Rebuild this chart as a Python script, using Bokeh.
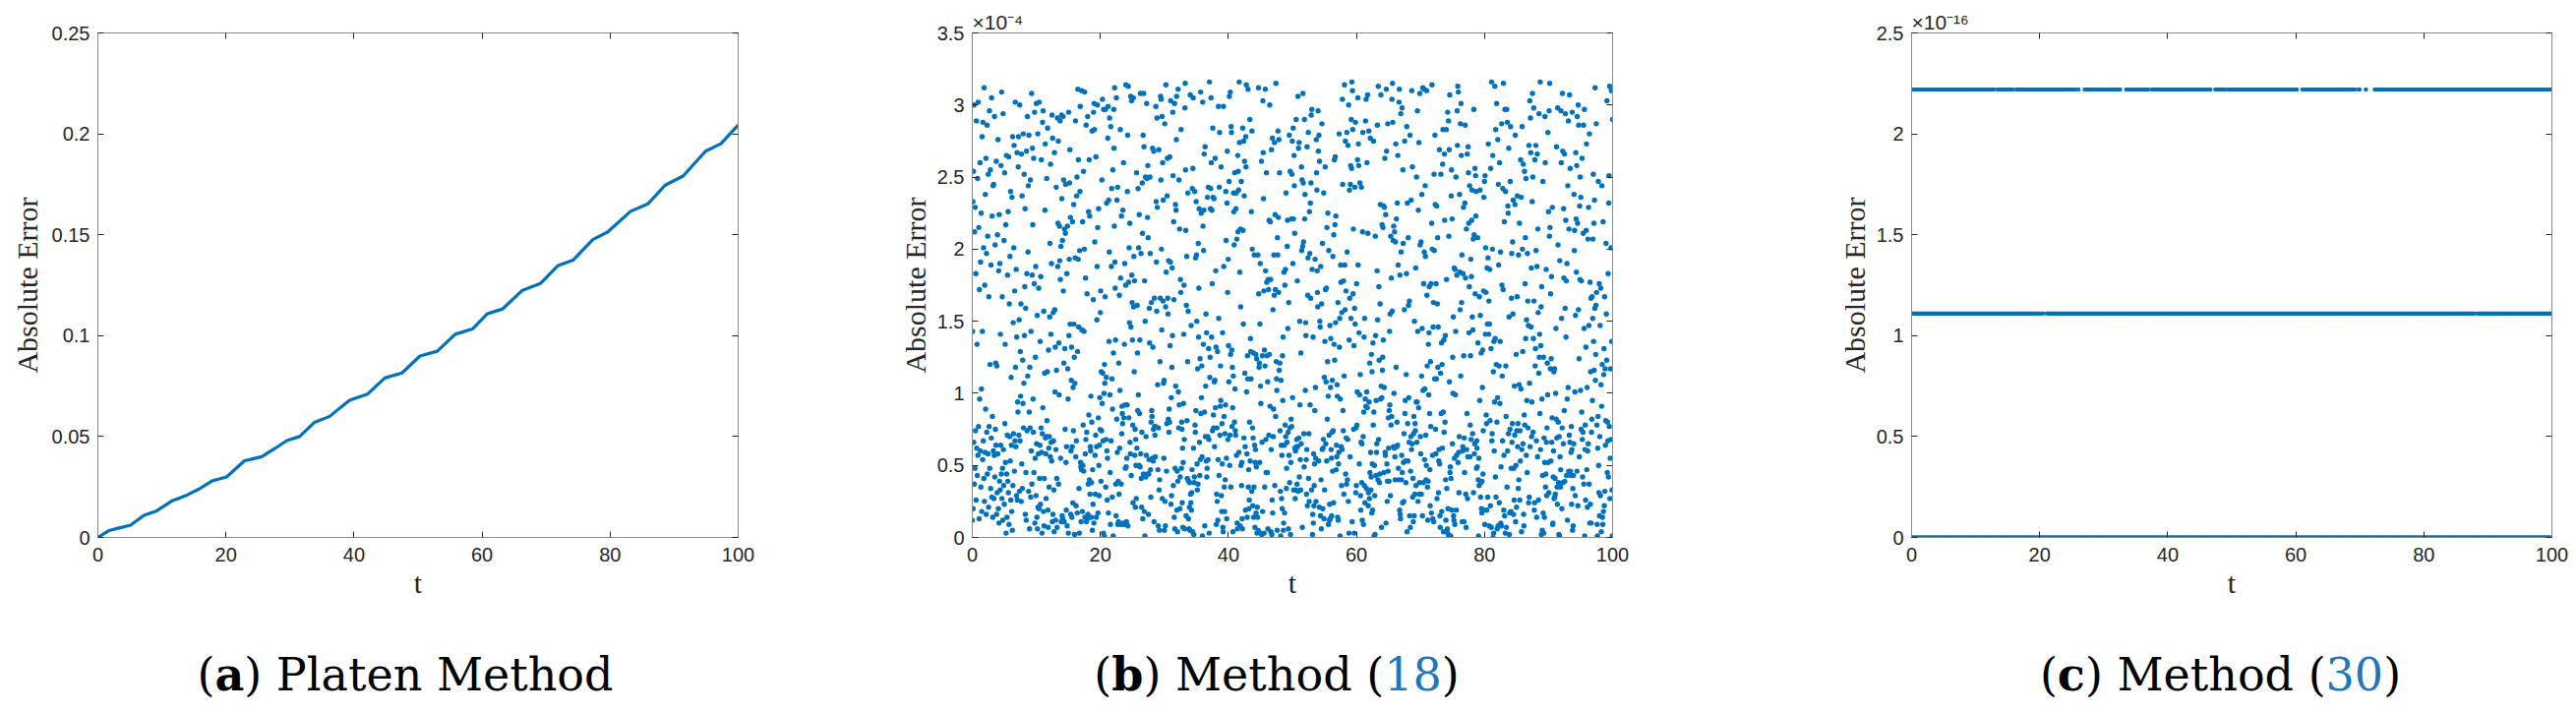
import numpy as np
from bokeh.plotting import figure
from bokeh.models import (LinearAxis, FixedTicker, Div, Range1d,
                          CustomJSTickFormatter)
from bokeh.layouts import row, column
from bokeh.embed import file_html
from bokeh.resources import INLINE

BLUE = "#0072BD"
TICK = "#262626"
FRAME = "#8c8c8c"
SANS = "Liberation Sans"
SERIF = "Liberation Serif"
CAP_FONT = "DejaVu Serif"

# ---------------- data ----------------
x_ticks = [0, 20, 40, 60, 80, 100]

a_yticks = [0, 0.05, 0.1, 0.15, 0.2, 0.25]
a_ylabels = ["0", "0.05", "0.1", "0.15", "0.2", "0.25"]
b_yticks = [0, 0.5, 1, 1.5, 2, 2.5, 3, 3.5]
b_ylabels = ["0", "0.5", "1", "1.5", "2", "2.5", "3", "3.5"]
c_yticks = [0, 0.5, 1, 1.5, 2, 2.5]
c_ylabels = ["0", "0.5", "1", "1.5", "2", "2.5"]
b_exponent = "×10⁻⁴"
c_exponent = "×10⁻¹⁶"

# (a) Platen method: absolute error along t
t_a = [0, 1.7, 3.3, 5.1, 7.2, 9.2, 11.5, 13.9, 15.8, 17.8, 20.1, 22.9, 25.6, 27.6,
       29.5, 31.5, 33.8, 36.2, 39.3, 42.1, 44.8, 47.5, 50.3, 53.0, 55.8, 58.5, 60.8,
       63.2, 66.3, 69.1, 71.8, 74.2, 77.3, 79.6, 83.2, 85.9, 88.6, 91.4, 94.9, 97.3, 100]
err_a = [0, 0.0034, 0.0047, 0.0061, 0.011, 0.0132, 0.018, 0.021, 0.024, 0.028, 0.030,
         0.038, 0.040, 0.044, 0.048, 0.050, 0.057, 0.060, 0.068, 0.071, 0.079, 0.0815,
         0.0899, 0.0923, 0.1007, 0.1033, 0.1108, 0.1132, 0.1225, 0.1258, 0.1346, 0.1374,
         0.1476, 0.1513, 0.1616, 0.1653, 0.1746, 0.1791, 0.1914, 0.1951, 0.2044]

# (b) Method (18): absolute error samples, in units of 1e-6 (estimated from the cloud);
# listed as a table, samples run down the columns
b_err_1e6 = [
12, 245, 67, 301, 188, 34, 156, 72, 279, 5, 213, 48, 133, 290, 61, 97, 22, 264, 176, 40, 311, 58, 120, 229, 9, 84, 197, 31, 256, 73,
143, 27, 302, 65, 218, 3, 171, 91, 44, 287, 15, 236, 108, 53, 269, 190, 36, 149, 78, 313, 19, 205, 62, 126, 251, 7, 164, 296, 46, 82,
233, 57, 118, 14, 275, 199, 39, 86, 308, 25, 161, 70, 247, 138, 2, 284, 51, 223, 101, 68, 182, 30, 259, 11, 141, 297, 76, 209, 43, 167,
20, 292, 63, 154, 37, 240, 115, 79, 271, 8, 195, 54, 306, 129, 26, 221, 88, 47, 262, 174, 16, 112, 283, 69, 201, 35, 147, 315, 59, 95,
254, 42, 186, 6, 135, 299, 74, 227, 18, 160, 81, 243, 50, 110, 277, 33, 193, 64, 305, 123, 13, 238, 87, 45, 170, 288, 24, 215, 77, 152,
66, 203, 29, 280, 99, 52, 248, 10, 178, 314, 41, 131, 71, 226, 17, 265, 104, 56, 189, 38, 294, 145, 4, 232, 85, 60, 272, 117, 23, 207,
300, 75, 139, 21, 216, 49, 93, 260, 1, 184, 122, 68, 309, 32, 158, 244, 55, 106, 273, 44, 198, 15, 137, 286, 79, 230, 28, 169, 61, 252,
37, 121, 267, 58, 192, 11, 304, 83, 150, 46, 239, 3, 127, 282, 70, 211, 25, 98, 258, 162, 40, 312, 73, 180, 19, 225, 107, 53, 295, 136,
212, 64, 26, 173, 289, 47, 114, 9, 250, 79, 157, 316, 35, 200, 89, 62, 276, 14, 142, 231, 57, 102, 266, 30, 187, 72, 303, 124, 5, 218,
48, 261, 94, 20, 179, 310, 67, 134, 42, 237, 13, 111, 285, 76, 196, 27, 253, 163, 51, 96, 298, 38, 220, 7, 148, 270, 63, 181, 34, 116,
229, 16, 87, 302, 55, 144, 3, 190, 70, 263, 39, 125, 281, 22, 168, 60, 241, 12, 99, 307, 45, 176, 80, 214, 28, 153, 291, 66, 8, 234,
74, 119, 257, 41, 202, 18, 297, 92, 57, 166, 6, 228, 130, 69, 274, 33, 185, 51, 246, 105, 24, 311, 140, 61, 194, 2, 267, 83, 43, 159,
183, 31, 278, 64, 11, 219, 100, 48, 301, 155, 21, 242, 77, 128, 36, 290, 170, 59, 113, 7, 255, 198, 40, 86, 273, 17, 146, 229, 65, 312,
26, 210, 71, 136, 293, 50, 1, 175, 249, 82, 38, 305, 118, 14, 224, 63, 160, 280, 29, 97, 204, 54, 12, 266, 141, 75, 187, 9, 238, 109,
289, 58, 151, 23, 235, 78, 120, 314, 44, 192, 5, 260, 90, 35, 172, 68, 296, 132, 19, 217, 52, 103, 283, 27, 164, 247, 70, 10, 199, 127,
62, 276, 32, 181, 15, 254, 107, 49, 222, 73, 307, 139, 4, 196, 84, 37, 268, 152, 66, 116, 25, 244, 179, 56, 8, 285, 94, 42, 213, 161,
134, 20, 300, 76, 206, 46, 167, 11, 258, 89, 30, 227, 112, 64, 315, 178, 53, 1, 243, 125, 72, 195, 34, 271, 148, 18, 233, 60, 101, 287,
43, 185, 67, 262, 13, 143, 297, 55, 208, 80, 24, 176, 239, 7, 122, 63, 279, 96, 38, 215, 158, 71, 4, 253, 186, 48, 308, 115, 29, 170,
249, 10, 129, 59, 292, 200, 35, 92, 16, 264, 147, 74, 226, 52, 110, 306, 21, 189, 65, 137, 275, 40, 6, 218, 81, 166, 250, 27, 154, 78,
57, 224, 98, 3, 171, 309, 68, 240, 44, 133, 19, 284, 203, 61, 102, 32, 261, 177, 12, 230, 86, 50, 295, 142, 22, 197, 73, 117, 267, 9,
302, 39, 162, 72, 248, 14, 111, 279, 54, 191, 31, 236, 80, 127, 5, 270, 150, 63, 212, 45, 95, 310, 20, 174, 256, 66, 138, 28, 221, 1,
77, 190, 25, 288, 121, 58, 232, 8, 159, 303, 47, 85, 253, 17, 208, 69, 146, 36, 281, 104, 53, 168, 2, 244, 131, 79, 298, 41, 184, 62,
215, 33, 266, 90, 11, 180, 60, 313, 135, 23, 242, 76, 103, 49, 196, 274, 15, 156, 70, 229, 38, 119, 289, 56, 7, 205, 164, 30, 258, 84,
13, 141, 51, 296, 214, 68, 26, 177, 250, 97, 4, 235, 74, 124, 282, 42, 188, 61, 9, 263, 113, 35, 209, 78, 316, 155, 19, 100, 46, 247,
172, 64, 237, 18, 131, 286, 55, 83, 197, 29, 256, 108, 71, 3, 222, 150, 40, 304, 87, 59, 183, 12, 269, 126, 67, 234, 24, 145, 292, 50,
96, 258, 34, 157, 75, 11, 277, 201, 47, 118, 305, 63, 228, 21, 170, 92, 6, 245, 139, 57, 285, 39, 108, 193, 72, 16, 262, 82, 218, 31,
260, 44, 123, 8, 211, 73, 299, 149, 28, 187, 62, 109, 239, 14, 276, 54, 162, 88, 36, 224, 4, 134, 307, 68, 200, 48, 119, 271, 22, 176,
60, 309, 93, 41, 245, 169, 17, 218, 80, 140, 2, 263, 57, 196, 116, 33, 287, 74, 152, 10, 232, 99, 45, 181, 265, 26, 131, 69, 300, 15,
191, 27, 280, 114, 52, 13, 234, 66, 163, 295, 38, 90, 207, 5, 253, 128, 61, 178, 24, 311, 79, 142, 49, 220, 0, 105, 272, 35, 158, 70,
35, 167, 76, 227, 19, 292, 136, 58, 88, 251, 42, 185, 10, 312, 121, 65, 204, 30, 96, 268, 53, 174, 1, 241, 115, 71, 199, 23, 286, 147,
225, 48, 107, 273, 63, 16, 198, 306, 84, 36, 240, 132, 6, 169, 74, 257, 20, 112, 289, 51, 208, 86, 41, 153, 3, 231, 67, 298, 124, 29,
103, 12, 252, 69, 183, 37, 291, 146, 55, 219, 78, 9, 265, 118, 32, 199, 62, 314, 91, 25, 161, 47, 237, 72, 136, 279, 14, 203, 56, 173,
18, 294, 140, 58, 8, 226, 99, 43, 270, 165, 73, 30, 212, 121, 1, 248, 68, 189, 304, 39, 97, 22, 255, 144, 60, 11, 188, 80, 230, 106,
278, 61, 174, 27, 216, 85, 45, 303, 132, 14, 194, 76, 254, 52, 109, 7, 239, 158, 34, 287, 66, 122, 19, 207, 94, 50, 266, 38, 179, 4,
143, 36, 228, 70, 117, 262, 9, 182, 53, 301, 88, 25, 241, 148, 64, 202, 13, 275, 101, 46, 164, 77, 221, 31, 313, 127, 56, 2, 250, 91,
54, 206, 16, 249, 96, 40, 285, 163, 75, 6, 233, 129, 59, 190, 27, 308, 111, 44, 260, 83, 15, 176, 65, 297, 138, 21, 214, 70, 102, 244,
288, 23, 159, 81, 3, 223, 67, 137, 268, 48, 196, 12, 316, 105, 57, 246, 33, 171, 90, 62, 279, 17, 125, 210, 42, 74, 156, 1, 236, 120,
67, 253, 45, 115, 295, 30, 188, 78, 11, 231, 150, 54, 274, 93, 20, 205, 136, 69, 307, 39, 7, 218, 100, 58, 283, 167, 26, 192, 75, 14,
201, 79, 12, 284, 140, 63, 242, 24, 166, 105, 51, 299, 184, 3, 126, 72, 257, 37, 211, 88, 46, 314, 153, 65, 28, 237, 114, 56, 178, 9,
41, 134, 268, 19, 193, 60, 110, 305, 77, 227, 33, 152, 8, 261, 95, 49, 172, 281, 22, 143, 70, 200, 15, 256, 120, 63, 294, 35, 87, 219,
312, 52, 183, 7, 246, 98, 28, 160, 71, 276, 117, 43, 214, 2, 139, 290, 65, 198, 31, 92, 234, 57, 12, 169, 301, 79, 125, 47, 263, 18,
25, 217, 74, 130, 269, 14, 89, 195, 56, 306, 37, 243, 160, 66, 5, 221, 108, 40, 282, 155, 61, 13, 187, 251, 80, 34, 141, 296, 68, 113,
175, 3, 292, 62, 148, 38, 255, 115, 77, 19, 204, 281, 50, 126, 10, 238, 173, 68, 94, 29, 310, 146, 55, 223, 6, 196, 86, 260, 42, 131,
59, 265, 112, 35, 222, 80, 1, 178, 299, 46, 139, 71, 247, 18, 184, 102, 53, 272, 27, 209, 65, 163, 9, 240, 97, 40, 316, 152, 73, 22,
238, 44, 198, 70, 16, 282, 128, 57, 233, 4, 173, 91, 36, 303, 64, 149, 215, 25, 121, 78, 257, 11, 186, 48, 276, 106, 61, 20, 211, 167,
89, 14, 244, 153, 60, 5, 297, 75, 191, 39, 228, 119, 52, 267, 17, 140, 82, 300, 45, 180, 28, 252, 99, 67, 8, 218, 133, 76, 286, 32,
263, 71, 32, 204, 109, 47, 270, 21, 157, 311, 66, 95, 13, 235, 175, 54, 122, 3, 277, 84, 41, 199, 143, 62, 245, 26, 160, 308, 37, 117,
16, 182, 279, 56, 132, 23, 216, 68, 291, 101, 43, 257, 6, 171, 78, 30, 225, 137, 59, 304, 11, 110, 250, 49, 189, 74, 2, 268, 145, 64,
197, 39, 87, 259, 14, 165, 312, 50, 229, 76, 124, 29, 284, 3, 186, 61, 98, 241, 33, 157, 72, 279, 19, 208, 119, 53, 174, 38, 297, 81,
73, 226, 6, 141, 63, 295, 191, 27, 106, 248, 54, 18, 213, 130, 70, 271, 9, 166, 42, 315, 84, 231, 57, 135, 24, 262, 96, 65, 1, 204,
286, 31, 118, 66, 219, 10, 173, 253, 47, 92, 309, 79, 148, 35, 239, 22, 199, 56, 127, 288, 15, 75, 182, 40, 260, 103, 5, 228, 61, 155,
44, 264, 76, 190, 24, 301, 137, 62, 8, 214, 86, 51, 275, 119, 34, 168, 71, 245, 17, 206, 150, 58, 296, 1, 93, 236, 43, 180, 78, 123,
209, 9, 248, 53, 104, 283, 37, 161, 76, 20, 225, 142, 69, 311, 48, 194, 12, 258, 115, 63, 30, 176, 272, 55, 136, 4, 247, 88, 26, 303,
58, 162, 28, 293, 74, 205, 15, 128, 269, 42, 97, 7, 237, 185, 66, 281, 23, 152, 51, 216, 79, 110, 313, 36, 198, 61, 17, 266, 132, 45,
252, 70, 143, 11, 231, 57, 305, 88, 33, 179, 119, 4, 261, 68, 202, 41, 147, 290, 19, 100, 74, 230, 52, 167, 10, 285, 125, 39, 213, 80,
21, 195, 60, 277, 148, 30, 82, 242, 5, 170, 56, 299, 114, 45, 220, 72, 13, 256, 135, 62, 187, 27, 309, 95, 49, 200, 3, 159, 273, 67,
167, 53, 308, 16, 125, 71, 234, 99, 40, 283, 1, 188, 63, 253, 145, 25, 104, 316, 78, 212, 36, 162, 59, 241, 8, 129, 69, 294, 47, 183,
77, 240, 37, 156, 2, 264, 59, 201, 122, 48, 302, 84, 19, 177, 73, 226, 138, 11, 275, 56, 94, 208, 31, 154, 287, 65, 14, 220, 104, 42,
296, 26, 182, 67, 107, 14, 243, 50, 166, 80, 216, 35, 278, 126, 6, 197, 61, 310, 87, 40, 250, 118, 70, 28, 175, 259, 52, 139, 21, 232,
48, 111, 270, 33, 194, 63, 9, 224, 306, 75, 134, 18, 257, 45, 163, 92, 55, 283, 1, 205, 66, 146, 238, 38, 112, 16, 292, 178, 60, 251,
120, 64, 217, 4, 289, 151, 39, 86, 248, 24, 199, 72, 314, 108, 57, 232, 15, 169, 50, 273, 94, 31, 184, 128, 67, 8, 260, 43, 207, 77,
255, 18, 96, 267, 56, 188, 11, 137, 304, 62, 227, 40, 101, 6, 279, 166, 73, 214, 29, 118, 296, 53, 158, 20, 242, 85, 35, 190, 65, 313,
34, 236, 73, 158, 22, 300, 121, 49, 200, 7, 266, 92, 58, 179, 38, 246, 109, 75, 2, 221, 143, 61, 287, 17, 172, 254, 44, 96, 229, 27,
189, 5, 263, 101, 67, 215, 30, 308, 144, 52, 87, 240, 14, 172, 76, 293, 46, 133, 209, 63, 25, 269, 112, 39, 315, 78, 186, 12, 147, 55,
69, 278, 45, 132, 237, 17, 168, 58, 292, 93, 8, 206, 126, 71, 254, 33, 195, 3, 140, 80, 227, 51, 301, 104, 19, 176, 66, 244, 37, 117,
305, 36, 176, 12, 250, 83, 62, 197, 27, 141, 271, 55, 110, 220, 2, 297, 74, 159, 43, 232, 90, 15, 265, 130, 57, 208, 29, 104, 280, 68,
28, 149, 295, 61, 17, 228, 102, 41, 260, 175, 70, 13, 311, 127, 52, 186, 24, 243, 95, 64, 274, 7, 163, 44, 219, 138, 76, 289, 10, 201,
223, 72, 10, 243, 129, 50, 283, 21, 164, 68, 105, 232, 35, 300, 82, 2, 210, 148, 59, 265, 30, 114, 196, 74, 15, 249, 121, 46, 177, 310,
84, 201, 55, 116, 311, 29, 180, 73, 234, 6, 155, 268, 47, 91, 221, 16, 134, 288, 65, 189, 38, 252, 11, 171, 297, 57, 99, 214, 23, 136,
14, 272, 125, 41, 193, 64, 9, 246, 107, 298, 53, 170, 20, 219, 77, 139, 262, 31, 185, 48, 308, 86, 60, 236, 3, 151, 281, 71, 115, 33,
244, 46, 188, 7, 262, 97, 37, 211, 55, 315, 142, 68, 26, 179, 252, 10, 123, 76, 286, 40, 203, 135, 63, 19, 240, 95, 52, 307, 166, 1,
60, 171, 29, 291, 146, 75, 223, 13, 109, 255, 42, 193, 80, 4, 275, 58, 217, 36, 151, 302, 70, 18, 183, 247, 119, 45, 226, 66, 10, 290,
]
b_table_cols = 30

# (c) Method (30): error takes three levels (units of 1e-16); spans of t where each level occurs
c_levels = [0.0, 1.11, 2.22]
c_level_spans = [
    [(0, 100)],
    [(0, 20.6), (21.1, 88.0), (88.4, 100)],
    [(0, 12.9), (13.4, 15.8), (16.3, 25.7), (26.0, 26.1), (27.0, 32.6), (33.5, 37.0),
     (37.5, 46.7), (47.4, 49.0), (49.4, 60.3), (61.0, 69.3), (69.8, 70.0), (70.9, 71.1),
     (72.3, 100)],
]

# ---------------- helpers ----------------
EMPTY = CustomJSTickFormatter(code="return ''")
FIG_H = 628


def style_axis(ax, mirror=False):
    ax.axis_line_color = FRAME
    ax.axis_line_width = 1
    ax.major_tick_in = 6
    ax.major_tick_out = 0
    ax.major_tick_line_color = TICK
    ax.major_tick_line_width = 1
    ax.minor_tick_line_color = None
    ax.major_label_text_font = SANS
    ax.major_label_text_font_size = "20px"
    ax.major_label_text_color = TICK
    if mirror:
        ax.major_label_standoff = 0
        ax.formatter = EMPTY


def make_panel(width, left, right, ymax, yticks, ylabels, ylab_standoff, exponent=None):
    p = figure(width=width, height=FIG_H, x_range=Range1d(0, 100), y_range=Range1d(0, ymax),
               output_backend="svg", toolbar_location=None,
               min_border_left=left, min_border_right=right,
               min_border_top=33, min_border_bottom=82)
    p.grid.visible = False
    p.outline_line_color = None
    p.background_fill_color = "white"
    p.border_fill_color = "white"
    if exponent:
        p.title.text = exponent
        p.title.align = "left"
        p.title.offset = 0
        p.title.standoff = 0
        p.title.text_font = SANS
        p.title.text_font_size = "21px"
        p.title.text_font_style = "normal"
        p.title.text_color = TICK
    xa = p.xaxis[0]
    ya = p.yaxis[0]
    xa.ticker = FixedTicker(ticks=x_ticks)
    ya.ticker = FixedTicker(ticks=yticks)
    ya.major_label_overrides = {v: l for v, l in zip(yticks, ylabels)}
    style_axis(xa)
    style_axis(ya)
    xa.major_label_standoff = 10
    ya.major_label_standoff = 8
    xa.axis_label = "t"
    ya.axis_label = "Absolute Error"
    for ax, so in ((xa, 2), (ya, ylab_standoff)):
        ax.axis_label_text_font = SERIF
        ax.axis_label_text_font_size = "30px"
        ax.axis_label_text_font_style = "normal"
        ax.axis_label_text_color = TICK
        ax.axis_label_standoff = so
    top = LinearAxis(ticker=FixedTicker(ticks=x_ticks))
    rgt = LinearAxis(ticker=FixedTicker(ticks=yticks))
    style_axis(top, mirror=True)
    style_axis(rgt, mirror=True)
    p.add_layout(top, "above")
    p.add_layout(rgt, "right")
    return p


# ---------------- panel (a) ----------------
pa = make_panel(870, 99, 120, 0.25, a_yticks, a_ylabels, 6)
pa.line(t_a, err_a, line_color=BLUE, line_width=3.2, line_join="round")

# ---------------- panel (b) ----------------
pb = make_panel(900, 118, 131, 3.5, b_yticks, b_ylabels, 3, b_exponent)
b_samples = np.array(b_err_1e6).reshape(-1, b_table_cols).T.ravel()
t_b = np.linspace(0, 100, len(b_samples))
y_b = b_samples / 100.0   # in units of 1e-4
pb.scatter(t_b, y_b, size=5.4, fill_color=BLUE, line_color=None)

# ---------------- panel (c) ----------------
pc = make_panel(841, 173, 17, 2.5, c_yticks, c_ylabels, 3, c_exponent)
t_c = np.linspace(0, 100, 1001)
for lvl, spans in zip(c_levels, c_level_spans):
    mask = np.zeros_like(t_c, dtype=bool)
    for lo, hi in spans:
        mask |= (t_c >= lo) & (t_c <= hi)
    pc.scatter(t_c[mask], np.full(mask.sum(), lvl), size=4, fill_color=BLUE, line_color=None)


# ---------------- captions ----------------
def caption(width, dx, html):
    return Div(text=(f'<div style="width:{width}px;text-align:center;'
                     f'transform:translateX({dx}px);font-family:\'{CAP_FONT}\';'
                     f'font-size:46px;line-height:1.2;padding-top:31px;color:#000;'
                     f'white-space:nowrap;">{html}</div>'),
               width=width, height=89, margin=(0, 0, 0, 0))


BLUE_TXT = "#1f77b9"
caps = row(
    caption(870, -23, "(<b>a</b>) Platen Method"),
    caption(900, -22, f'(<b>b</b>) Method (<span style="color:{BLUE_TXT}">18</span>)'),
    caption(841, 67, f'(<b>c</b>) Method (<span style="color:{BLUE_TXT}">30</span>)'),
    spacing=0,
)

layout = column(row(pa, pb, pc, spacing=0), caps, spacing=0)

with open("out.html", "w") as f:
    f.write(file_html(layout, INLINE))
